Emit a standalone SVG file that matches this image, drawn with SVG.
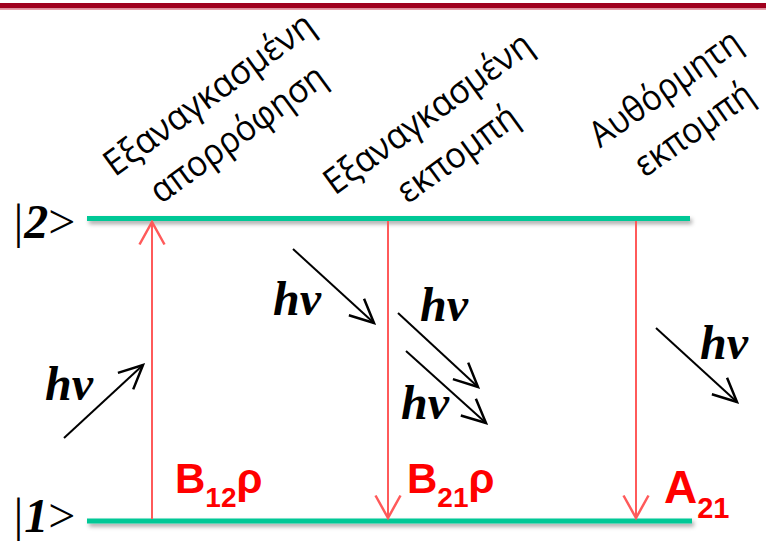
<svg xmlns="http://www.w3.org/2000/svg" width="766" height="541" viewBox="0 0 766 541">
<style>
.lvl{fill:#00C896;filter:url(#sh)}
.red{stroke:#FF5A5A;stroke-width:2;fill:none}
.blk{stroke:#000;stroke-width:2;fill:none}
.hv{font-family:"Liberation Serif",serif;font-size:48px;font-weight:bold;font-style:italic;fill:#000}
.gr{font-family:"Open Sans","Noto Sans",sans-serif;font-size:36px;fill:#000;text-anchor:middle}
.ket{font-family:"Liberation Serif",serif;font-size:48px;font-style:italic;fill:#000}
.coef{font-family:"Liberation Sans",Arial,sans-serif;font-weight:bold;fill:#FF0000}
</style>
<defs>
<filter id="sh" x="-5%" y="-100%" width="110%" height="400%">
<feDropShadow dx="2" dy="3" stdDeviation="2" flood-color="#000" flood-opacity="0.35"/>
</filter>
<marker id="ab" markerUnits="userSpaceOnUse" markerWidth="30" markerHeight="30" refX="0" refY="0" viewBox="-22 -12 24 24" orient="auto">
<path d="M-19,-9 L0,0 L-19,9" stroke="#000" stroke-width="2" fill="none"/>
</marker>
<marker id="ar" markerUnits="userSpaceOnUse" markerWidth="30" markerHeight="30" refX="0" refY="0" viewBox="-22 -12 24 24" orient="auto">
<path d="M-18,-10 L0,0 L-18,10" stroke="#FF5A5A" stroke-width="2" fill="none"/>
</marker>
</defs>
<rect width="766" height="541" fill="#fff"/>
<g id="topbar">
<rect x="0" y="3" width="766" height="5.5" fill="#A0001E"/>
<rect x="0" y="8.5" width="766" height="1.5" fill="#E8A0AA"/>
</g>
<g id="level2">
<rect class="lvl" x="87" y="216" width="603" height="5"/>
<text class="ket" x="11" y="238">|<tspan font-weight="bold">2</tspan><tspan font-style="normal">&gt;</tspan></text>
</g>
<g id="level1">
<rect class="lvl" x="87" y="518.5" width="605" height="5"/>
<text class="ket" x="11" y="532">|<tspan font-weight="bold">1</tspan><tspan font-style="normal">&gt;</tspan></text>
</g>
<g id="label-absorption" transform="translate(216,104) rotate(-36)">
<text class="gr" x="0" y="0" textLength="250" lengthAdjust="spacingAndGlyphs">Εξαναγκασμένη</text>
<text class="gr" x="0" y="49" textLength="208" lengthAdjust="spacingAndGlyphs">απορρόφηση</text>
</g>
<g id="label-stimulated" transform="translate(435,123) rotate(-36)">
<text class="gr" x="0" y="0" textLength="248" lengthAdjust="spacingAndGlyphs">Εξαναγκασμένη</text>
<text class="gr" x="0" y="50" textLength="140" lengthAdjust="spacingAndGlyphs">εκπομπή</text>
</g>
<g id="label-spontaneous" transform="translate(672,98) rotate(-35)">
<text class="gr" x="0" y="0" textLength="176" lengthAdjust="spacingAndGlyphs">Αυθόρμητη</text>
<text class="gr" x="0" y="50" textLength="136" lengthAdjust="spacingAndGlyphs">εκπομπή</text>
</g>
<g id="connectors">
<line class="red" x1="152" y1="519" x2="152" y2="222" marker-end="url(#ar)"/>
<line class="red" x1="388" y1="221" x2="388" y2="518" marker-end="url(#ar)"/>
<line class="red" x1="636" y1="221" x2="636" y2="518" marker-end="url(#ar)"/>
<line class="blk" x1="64" y1="438" x2="143" y2="365" marker-end="url(#ab)"/>
<line class="blk" x1="293" y1="249" x2="374" y2="323" marker-end="url(#ab)"/>
<line class="blk" x1="398" y1="313" x2="478" y2="387" marker-end="url(#ab)"/>
<line class="blk" x1="406" y1="351" x2="486" y2="423" marker-end="url(#ab)"/>
<line class="blk" x1="656" y1="328" x2="737" y2="402" marker-end="url(#ab)"/>
</g>
<g id="photon-labels">
<text class="hv" x="45" y="400">hv</text>
<text class="hv" x="273" y="315">hv</text>
<text class="hv" x="420" y="321">hv</text>
<text class="hv" x="401" y="419">hv</text>
<text class="hv" x="700" y="359">hv</text>
</g>
<g id="rates">
<text class="coef" x="175" y="493" font-size="42">B<tspan font-size="28" dy="14">12</tspan><tspan dy="-14">ρ</tspan></text>
<text class="coef" x="407" y="493" font-size="42">B<tspan font-size="28" dy="14">21</tspan><tspan dy="-14">ρ</tspan></text>
<text class="coef" x="664" y="503" font-size="46">A<tspan font-size="29" dy="15">21</tspan></text>
</g>
</svg>
